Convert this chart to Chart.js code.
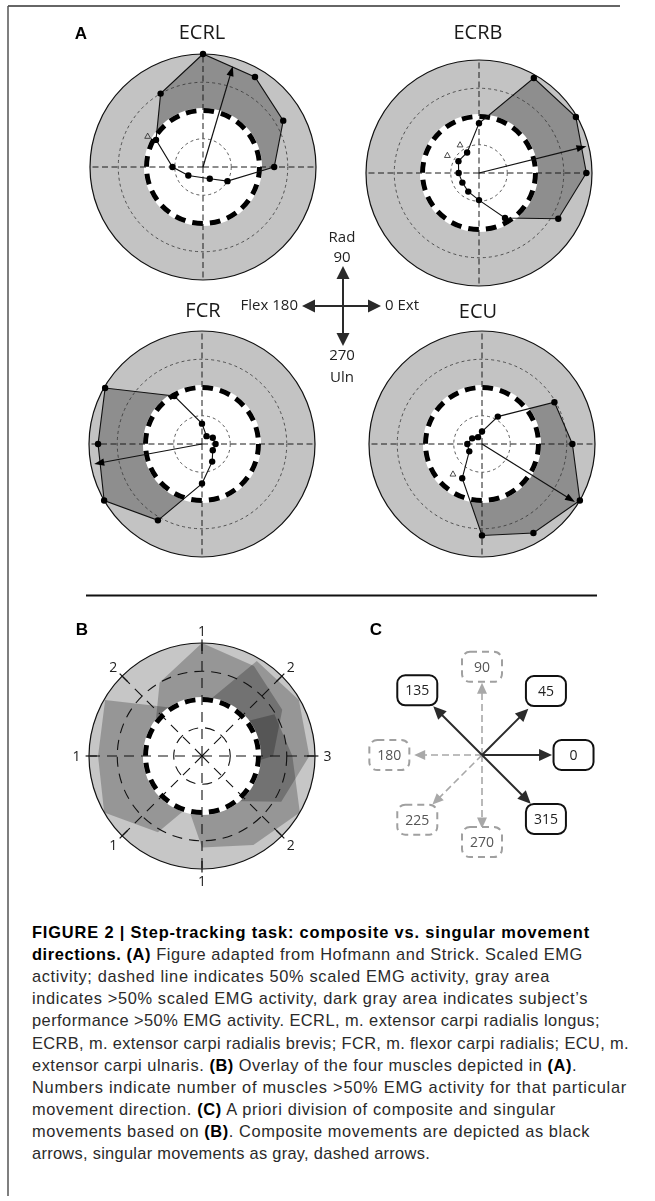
<!DOCTYPE html>
<html lang="en">
<head>
<meta charset="utf-8">
<title>Figure 2</title>
<script src="https://cdn.jsdelivr.net/npm/chart.js@4.4.1/dist/chart.umd.min.js"></script>
<style>
  html, body { margin:0; padding:0; background:#fff; }
  body { width:655px; height:1201px; position:relative; overflow:hidden; font-family:"Open Sans", sans-serif; }
  canvas { position:absolute; }
  .t { position:absolute; white-space:nowrap; line-height:1; }
  #overlay { position:absolute; left:0; top:0; }
  #caption { position:absolute; left:32px; top:920.6px; font-family:"Liberation Sans", Arial, sans-serif; color:#2a2a2a; font-size:16.4px; }
  #caption div { white-space:nowrap; width:max-content; height:22.2px; line-height:22.2px; }
  #caption b { color:#000; font-weight:700; }
</style>
</head>
<body>
<svg id="overlay" width="655" height="1201">
  <line x1="8" y1="6" x2="620" y2="6" stroke="#333" stroke-width="1.5"/>
  <line x1="8" y1="6" x2="8" y2="1196" stroke="#555" stroke-width="1.5"/>
  <line x1="86" y1="595.5" x2="597" y2="595.5" stroke="#111" stroke-width="2"/>
  <g stroke="#2a2a2a" stroke-width="2">
    <line x1="343" y1="276" x2="343" y2="336"/>
    <line x1="312" y1="306" x2="371" y2="306"/>
  </g>
  <g fill="#2a2a2a">
    <polygon points="343,266 336.5,279 349.5,279"/>
    <polygon points="343,346 336.5,333 349.5,333"/>
    <polygon points="302,306 315,299.5 315,312.5"/>
    <polygon points="381,306 368,299.5 368,312.5"/>
  </g>
</svg>
<div id="caption"></div>
<script>
// ================= DATA =================
const DIRECTIONS = [0, 30, 60, 90, 120, 150, 180, 210, 240, 270, 300, 330];
const MUSCLES = ['ECRL', 'ECRB', 'FCR', 'ECU'];
const ECRL = [0.63, 0.82, 0.92, 1.00, 0.75, 0.48, 0.27, 0.15, null, null, 0.12, 0.25];
const ECRB = [0.95, 0.99, 0.97, 0.44, 0.21, 0.21, 0.18, 0.17, 0.19, 0.24, 0.46, 0.81];
const FCR  = [0.12, 0.11, 0.08, 0.18, 0.49, 0.99, 0.92, 1.00, 0.78, 0.35, 0.18, 0.11];
const ECU  = [0.80, 0.74, 0.28, 0.11, 0.07, 0.10, 0.13, 0.13, 0.35, 0.81, 0.91, 1.00];
const MUSCLE_VALUES = [ECRL, ECRB, FCR, ECU];
const PREFERRED_ANGLE = [73.5, 14, 190.5, 328];
const PREFERRED_VALUE = [0.93, 0.98, 0.97, 0.97];
const SUBJECT_ANGLES = [[151], [124, 151], [], [226]];
const SUBJECT_VALUES = [[0.56], [0.30, 0.32], [], [0.37]];
const OVERLAP_DIRECTIONS = [0, 45, 90, 135, 180, 225, 270, 315];
const OVERLAP_COUNTS = [3, 2, 1, 2, 1, 1, 1, 2];
const MOVE_DIRECTIONS = [0, 45, 90, 135, 180, 225, 270, 315];
const MOVE_COMPOSITE = [true, true, false, true, false, false, false, true];
const MOVE_ARROW = [0.62, 0.58, 0.64, 0.61, 0.60, 0.62, 0.65, 0.61];
const MOVE_BOX = [0.81, 0.80, 0.78, 0.81, 0.82, 0.81, 0.77, 0.80];

// ================= LAYOUT / STYLE =================
const PANEL_CENTERS = [[203, 167], [479, 173], [202, 444], [482, 444]];
const TITLE_POS = [[202, 33], [478, 33], [203, 311], [478, 312]];
const B_CENTER = [202, 756];
const C_CENTER = [482, 755];
const CAPTION_RIGHT = [590, 583, 550, 588, 600, 629, 577, 627, 556, 590, 430];
const LIGHT = '#c3c3c3', DARK = '#8e8e8e', LIGHT_B = '#c6c6c6';
const STYLE_A = { thinColor:'#333', thinWidth:0.8, thinDash:[3,3], spokeColor:'#1a1a1a', spokeWidth:1, spokeDash:[6,3.5], spokes:[0,90,180,270] };
const STYLE_B = { thinColor:'#111', thinWidth:1.1, thinDash:[10,7], spokeColor:'#111', spokeWidth:1.1, spokeDash:[10,7], spokes:[0,45,90,135,180,225,270,315] };

// radar index i (clockwise from 3 o'clock) -> counter-clockwise direction order
function toRadar(arr) { const n = arr.length; return arr.map((_, i) => arr[(n - i) % n]); }
function polarXY(s, deg, v) {
  const d = s.getDistanceFromCenterForValue(v), a = deg * Math.PI / 180;
  return { x: s.xCenter + d * Math.cos(a), y: s.yCenter - d * Math.sin(a) };
}
function circle(ctx, s, v, extra) {
  ctx.beginPath();
  ctx.arc(s.xCenter, s.yCenter, s.getDistanceFromCenterForValue(v) + (extra || 0), 0, Math.PI * 2);
}
function arrowHead(ctx, a, tx, ty, len, hw, color) {
  ctx.beginPath();
  ctx.moveTo(tx, ty);
  ctx.lineTo(tx - len * Math.cos(a) + hw * Math.sin(a), ty - len * Math.sin(a) - hw * Math.cos(a));
  ctx.lineTo(tx - len * Math.cos(a) - hw * Math.sin(a), ty - len * Math.sin(a) + hw * Math.cos(a));
  ctx.closePath();
  ctx.fillStyle = color; ctx.fill();
}
function drawDisc(chart, color) {
  const s = chart.scales.r, ctx = chart.ctx;
  ctx.save(); circle(ctx, s, 1); ctx.fillStyle = color; ctx.fill(); ctx.restore();
}
function drawRings(chart, st) {
  const s = chart.scales.r, ctx = chart.ctx;
  ctx.save();
  circle(ctx, s, 0.5, 2.6); ctx.fillStyle = '#fff'; ctx.fill();
  ctx.strokeStyle = st.thinColor; ctx.lineWidth = st.thinWidth; ctx.setLineDash(st.thinDash);
  [0.25, 0.75].forEach(v => { circle(ctx, s, v); ctx.stroke(); });
  ctx.strokeStyle = st.spokeColor; ctx.lineWidth = st.spokeWidth; ctx.setLineDash(st.spokeDash);
  st.spokes.forEach(deg => {
    const p = polarXY(s, deg, 1);
    ctx.beginPath(); ctx.moveTo(s.xCenter, s.yCenter); ctx.lineTo(p.x, p.y); ctx.stroke();
  });
  const r50 = s.getDistanceFromCenterForValue(0.5);
  const circ = 2 * Math.PI * r50, n = Math.round(circ / 18), unit = circ / n;
  ctx.strokeStyle = '#000'; ctx.lineWidth = 5; ctx.setLineDash([unit * 0.6, unit * 0.4]);
  circle(ctx, s, 0.5); ctx.stroke();
  ctx.setLineDash([]); ctx.lineWidth = 1.2; ctx.strokeStyle = '#111';
  circle(ctx, s, 1); ctx.stroke();
  ctx.restore();
}
function baseOptions(pad) {
  return {
    responsive: false, animation: false, events: [], devicePixelRatio: 1,
    layout: { padding: pad },
    plugins: { legend: { display: false }, tooltip: { enabled: false } },
    scales: { r: { min: 0, max: 1, startAngle: 90,
      grid: { display: false, circular: true }, angleLines: { display: false },
      ticks: { display: false }, pointLabels: { display: false } } }
  };
}
function place(cv, chart, c) {
  const s = chart.scales.r;
  cv.style.left = (c[0] - s.xCenter) + 'px';
  cv.style.top = (c[1] - s.yCenter) + 'px';
}
function newCanvas(size) {
  const cv = document.createElement('canvas');
  cv.width = size; cv.height = size;
  document.body.appendChild(cv);
  return cv;
}
function addText(txt, x, y, o) {
  o = Object.assign({ size: 15, weight: 400, family: '"Open Sans", sans-serif', align: 'center', color: '#222', k: 0.53 }, o || {});
  const d = document.createElement('div');
  d.className = 't'; d.textContent = txt;
  d.style.fontFamily = o.family; d.style.fontSize = o.size + 'px'; d.style.fontWeight = o.weight; d.style.color = o.color;
  d.style.top = (y - o.k * o.size) + 'px';
  if (o.align === 'center') { d.style.left = (x - 200) + 'px'; d.style.width = '400px'; d.style.textAlign = 'center'; }
  else if (o.align === 'right') { d.style.left = (x - 400) + 'px'; d.style.width = '400px'; d.style.textAlign = 'right'; }
  else { d.style.left = x + 'px'; }
  document.body.appendChild(d);
}

// ================= PANEL A =================
function decorA(k) {
  return {
    id: 'decorA',
    beforeDatasetsDraw(chart) { drawDisc(chart, LIGHT); },
    afterDatasetDraw(chart, args) { if (args.index === 1) drawRings(chart, STYLE_A); },
    afterDatasetsDraw(chart) {
      const s = chart.scales.r, ctx = chart.ctx;
      const tip = polarXY(s, PREFERRED_ANGLE[k], PREFERRED_VALUE[k]);
      const a = Math.atan2(tip.y - s.yCenter, tip.x - s.xCenter);
      ctx.save();
      ctx.strokeStyle = '#111'; ctx.lineWidth = 1.2;
      ctx.beginPath(); ctx.moveTo(s.xCenter, s.yCenter);
      ctx.lineTo(tip.x - 8 * Math.cos(a), tip.y - 8 * Math.sin(a)); ctx.stroke();
      arrowHead(ctx, a, tip.x, tip.y, 10, 3.6, '#000');
      SUBJECT_ANGLES[k].forEach((ang, j) => {
        const p = polarXY(s, ang, SUBJECT_VALUES[k][j]);
        ctx.beginPath(); ctx.moveTo(p.x, p.y - 3.2); ctx.lineTo(p.x - 2.9, p.y + 2); ctx.lineTo(p.x + 2.9, p.y + 2); ctx.closePath();
        ctx.lineWidth = 0.8; ctx.strokeStyle = '#222'; ctx.stroke();
      });
      ctx.restore();
    }
  };
}
MUSCLES.forEach((name, k) => {
  const cv = newCanvas(250);
  const vals = toRadar(MUSCLE_VALUES[k]);
  const chart = new Chart(cv, {
    type: 'radar',
    data: {
      labels: toRadar(DIRECTIONS).map(String),
      datasets: [
        { label: name, data: vals, fill: false, spanGaps: true, tension: 0, clip: false,
          borderColor: '#111', borderWidth: 1.1, pointRadius: 3.2, pointBackgroundColor: '#000', pointBorderWidth: 0 },
        { label: name + ' >50%', data: vals, fill: 'origin', spanGaps: true, tension: 0, clip: false,
          backgroundColor: DARK, borderColor: 'rgba(0,0,0,0)', borderWidth: 0, pointRadius: 0 }
      ]
    },
    options: baseOptions(12),
    plugins: [decorA(k)]
  });
  place(cv, chart, PANEL_CENTERS[k]);
  addText(name, TITLE_POS[k][0], TITLE_POS[k][1], { size: 20, color: '#1a1a1a' });
});

// ================= PANEL B =================
(function () {
  const cv = newCanvas(280);
  const chart = new Chart(cv, {
    type: 'radar',
    data: {
      labels: toRadar(DIRECTIONS).map(String),
      datasets: MUSCLE_VALUES.map((v, k) => ({
        label: MUSCLES[k], data: toRadar(v), fill: 'origin', spanGaps: true, tension: 0, clip: false,
        backgroundColor: 'rgba(0,0,0,0.24)', borderColor: 'rgba(0,0,0,0)', borderWidth: 0, pointRadius: 0
      }))
    },
    options: baseOptions(27),
    plugins: [{
      id: 'decorB',
      beforeDatasetsDraw(chart) { drawDisc(chart, LIGHT_B); },
      afterDatasetsDraw(chart) {
        drawRings(chart, STYLE_B);
        const s = chart.scales.r, ctx = chart.ctx;
        ctx.save();
        ctx.strokeStyle = '#111'; ctx.lineWidth = 1.2;
        OVERLAP_DIRECTIONS.forEach(deg => {
          const p1 = polarXY(s, deg, 0.93), p2 = polarXY(s, deg, 1.03);
          ctx.beginPath(); ctx.moveTo(p1.x, p1.y); ctx.lineTo(p2.x, p2.y); ctx.stroke();
        });
        ctx.fillStyle = '#222'; ctx.font = '14px "Open Sans", sans-serif';
        ctx.textAlign = 'center'; ctx.textBaseline = 'middle';
        OVERLAP_DIRECTIONS.forEach((deg, i) => {
          const p = polarXY(s, deg, 1.11);
          ctx.fillText(String(OVERLAP_COUNTS[i]), p.x, p.y + 1);
        });
        ctx.restore();
      }
    }]
  });
  place(cv, chart, B_CENTER);
})();

// ================= PANEL C =================
(function () {
  const cv = newCanvas(240);
  const comp = toRadar(MOVE_COMPOSITE), box = toRadar(MOVE_BOX);
  function rr(ctx, x, y, w, h, r) {
    ctx.beginPath();
    ctx.moveTo(x + r, y); ctx.lineTo(x + w - r, y); ctx.arcTo(x + w, y, x + w, y + r, r);
    ctx.lineTo(x + w, y + h - r); ctx.arcTo(x + w, y + h, x + w - r, y + h, r);
    ctx.lineTo(x + r, y + h); ctx.arcTo(x, y + h, x, y + h - r, r);
    ctx.lineTo(x, y + r); ctx.arcTo(x, y, x + r, y, r); ctx.closePath();
  }
  const chart = new Chart(cv, {
    type: 'radar',
    data: {
      labels: toRadar(MOVE_DIRECTIONS).map(String),
      datasets: [{ label: 'movement', data: toRadar(MOVE_ARROW), fill: false, showLine: false,
        borderWidth: 0, pointRadius: 0, clip: false }]
    },
    options: baseOptions(7),
    plugins: [{
      id: 'decorC',
      afterDatasetsDraw(chart) {
        const s = chart.scales.r, ctx = chart.ctx, meta = chart.getDatasetMeta(0);
        const labels = chart.data.labels;
        const order = [...Array(comp.length).keys()].sort((a, b) => comp[a] - comp[b]);
        order.forEach(i => {
          const tip = meta.data[i], c = comp[i];
          const col = c ? '#2b2b2b' : '#a8a8a8';
          const hl = c ? 13 : 11, hw = c ? 6 : 5;
          const a = Math.atan2(tip.y - s.yCenter, tip.x - s.xCenter);
          ctx.save();
          ctx.strokeStyle = col; ctx.lineWidth = c ? 2 : 1.6; ctx.setLineDash(c ? [] : [7, 4]);
          ctx.beginPath(); ctx.moveTo(s.xCenter, s.yCenter);
          ctx.lineTo(tip.x - (hl - 1) * Math.cos(a), tip.y - (hl - 1) * Math.sin(a)); ctx.stroke();
          ctx.setLineDash([]);
          arrowHead(ctx, a, tip.x, tip.y, hl, hw, col);
          const bp = s.getPointPosition(i, s.getDistanceFromCenterForValue(box[i]));
          rr(ctx, bp.x - 20, bp.y - 15, 40, 30, 8);
          ctx.fillStyle = '#fff'; ctx.fill();
          ctx.lineWidth = 2; ctx.strokeStyle = c ? '#111' : '#a0a0a0'; ctx.setLineDash(c ? [] : [7, 5]);
          ctx.stroke(); ctx.setLineDash([]);
          ctx.fillStyle = c ? '#222' : '#555'; ctx.font = '14px "Open Sans", sans-serif';
          ctx.textAlign = 'center'; ctx.textBaseline = 'middle';
          ctx.fillText(labels[i], bp.x, bp.y + 1);
          ctx.restore();
        });
      }
    }]
  });
  place(cv, chart, C_CENTER);
})();

// ================= TEXT =================
addText('A', 81, 33, { size: 17, weight: 700, family: '"Liberation Sans", Arial, sans-serif', color: '#000', k: 0.49 });
addText('B', 82, 629.5, { size: 17, weight: 700, family: '"Liberation Sans", Arial, sans-serif', color: '#000', k: 0.49 });
addText('C', 376, 629.5, { size: 17, weight: 700, family: '"Liberation Sans", Arial, sans-serif', color: '#000', k: 0.49 });
addText('Rad', 342, 237, { size: 15 });
addText('90', 342, 257, { size: 15 });
addText('Flex 180', 298, 305, { size: 15, align: 'right' });
addText('0 Ext', 385, 305, { size: 15, align: 'left' });
addText('270', 342, 355, { size: 15 });
addText('Uln', 342, 377, { size: 15 });

const CAPTION = [
  '<b>FIGURE 2 | Step-tracking task: composite vs. singular movement</b>',
  '<b>directions. (A)</b> Figure adapted from Hofmann and Strick. Scaled EMG',
  'activity; dashed line indicates 50% scaled EMG activity, gray area',
  'indicates &gt;50% scaled EMG activity, dark gray area indicates subject’s',
  'performance &gt;50% EMG activity. ECRL, m. extensor carpi radialis longus;',
  'ECRB, m. extensor carpi radialis brevis; FCR, m. flexor carpi radialis; ECU, m.',
  'extensor carpi ulnaris. <b>(B)</b> Overlay of the four muscles depicted in <b>(A)</b>.',
  'Numbers indicate number of muscles &gt;50% EMG activity for that particular',
  'movement direction. <b>(C)</b> A priori division of composite and singular',
  'movements based on <b>(B)</b>. Composite movements are depicted as black',
  'arrows, singular movements as gray, dashed arrows.'
];
const cap = document.getElementById('caption');
cap.innerHTML = CAPTION.map(l => '<div>' + l + '</div>').join('');
function fitCaption() {
  [...cap.children].forEach((d, i) => {
    d.style.letterSpacing = '0px';
    const r = d.getBoundingClientRect();
    const n = d.textContent.length;
    d.style.letterSpacing = ((CAPTION_RIGHT[i] - r.right) / n).toFixed(3) + 'px';
  });
}
fitCaption();
if (document.fonts && document.fonts.ready) document.fonts.ready.then(fitCaption);
</script>
</body>
</html>
